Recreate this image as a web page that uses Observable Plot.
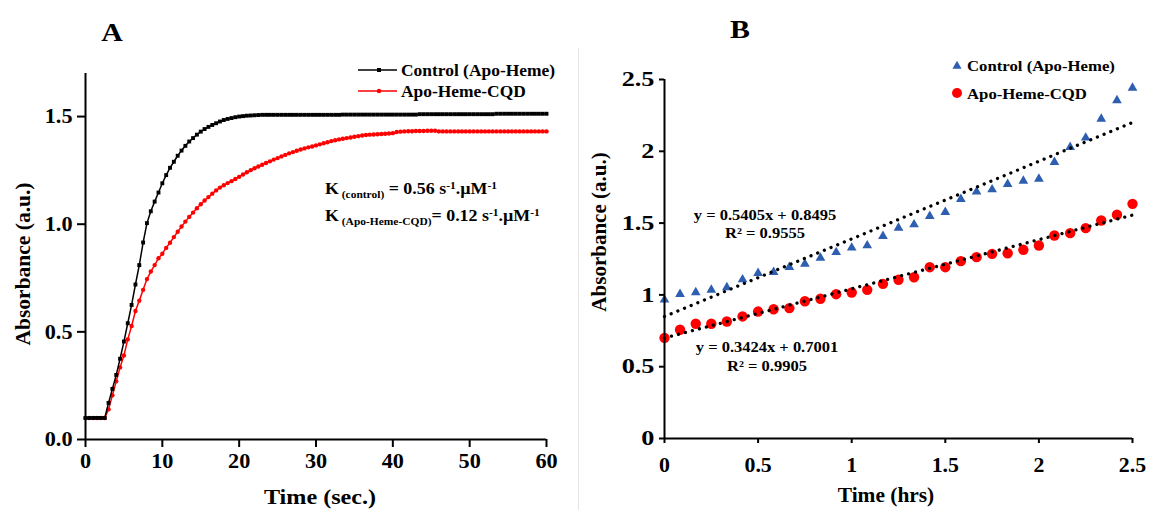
<!DOCTYPE html>
<html>
<head>
<meta charset="utf-8">
<script src="https://cdn.jsdelivr.net/npm/d3@7"></script>
<script src="https://cdn.jsdelivr.net/npm/@observablehq/plot@0.6"></script>
<style>
html,body{margin:0;padding:0;background:#fff;}
#wrap{position:relative;width:1149px;height:510px;overflow:hidden;background:#fff;}
#panelA{position:absolute;left:0;top:0;}
#panelB{position:absolute;left:580px;top:0;}
#divider{position:absolute;left:578px;top:48px;width:1px;height:462px;background:#e4e4e4;}
svg text{white-space:pre;}
</style>
</head>
<body>
<div id="wrap"><div id="panelA"></div><div id="divider"></div><div id="panelB"></div></div>
<script>
const FONT = "'Liberation Serif','Times New Roman',serif";

// ---------- Panel A data ----------
const panelLetters = ["A", "B"];
const seriesNames = ["Control (Apo-Heme)", "Apo-Heme-CQD"];
const timeStepA = 0.5; // seconds between readings
const controlA = [
  0.1,0.1,0.1,0.1,0.1,0.1,
  0.17,0.235,0.30,0.375,0.455,0.54,0.625,0.72,0.81,0.915,
  1.005,1.06,1.105,1.147,1.19,1.228,1.262,1.29,1.318,1.342,
  1.364,1.384,1.4,1.416,1.43,1.442,1.452,1.461,1.469,1.477,
  1.484,1.489,1.493,1.497,1.5,1.502,1.504,1.505,1.506,1.507,
  1.508,
  1.508,1.508,1.508,1.508,1.508,1.508,1.508,1.508,1.508,1.508,
  1.508,1.508,1.508,1.508,1.508,1.508,1.508,1.508,1.508,1.508,
  1.509,1.509,1.509,1.509,1.509,1.509,1.509,1.509,1.509,1.509,
  1.509,1.509,1.509,1.509,1.509,1.509,1.509,1.509,1.509,1.509,
  1.511,1.511,1.511,1.511,1.511,1.511,1.511,1.511,1.511,1.511,
  1.511,1.511,1.511,1.511,1.511,1.511,1.511,1.511,1.511,1.511,
  1.513,1.513,1.513,1.513,1.513,1.513,1.513,1.513,1.513,1.513,
  1.513,1.513,1.513,1.513
];
const cqdA = [
  0.1,0.1,0.1,0.1,0.1,0.1,
  0.14,0.205,0.27,0.335,0.39,0.465,0.527,0.597,0.645,0.695,
  0.745,0.78,0.81,0.842,0.863,0.89,0.914,0.94,0.965,0.989,
  1.012,1.034,1.054,1.074,1.093,1.11,1.126,1.142,1.157,1.17,
  1.181,1.191,1.2,1.21,1.22,1.231,1.241,1.251,1.26,1.268,
  1.276,1.284,1.292,1.3,1.307,1.315,1.322,1.329,1.335,1.341,
  1.347,1.352,1.357,1.361,1.366,1.371,1.376,1.381,1.386,1.39,
  1.394,1.397,1.4,1.403,1.406,1.409,1.412,1.414,1.416,1.417,
  1.418,1.419,1.42,1.421,1.423,1.428,1.43,1.431,1.432,1.432,
  1.433,1.433,1.433,1.434,1.434,1.434,1.431,
  1.431,1.431,1.431,1.431,1.431,1.431,1.431,1.431,1.431,1.431,
  1.431,1.431,1.431,1.431,1.431,1.431,1.431,1.431,1.431,1.431,
  1.431,1.431,1.431,1.431,1.431,1.431,1.431,1.431
];
const xTicksA = [0, 10, 20, 30, 40, 50, 60];
const yTicksA = [0, 0.5, 1.0, 1.5];
const xLabelA = "Time (sec.)";
const yLabel = "Absorbance (a.u.)";
const kRates = ["0.56", "0.12"];
const kSubs = ["(control)", "(Apo-Heme-CQD)"];

// ---------- Panel B data ----------
const timeB = [0,0.083,0.167,0.25,0.333,0.417,0.5,0.583,0.667,0.75,0.833,0.917,1,1.083,1.167,1.25,
  1.333,1.417,1.5,1.583,1.667,1.75,1.833,1.917,2,2.083,2.167,2.25,2.333,2.417,2.5];
const controlB = [0.966,1.005,1.017,1.035,1.052,1.107,1.151,1.158,1.193,1.216,1.258,1.297,1.328,1.344,1.409,1.467,
  1.49,1.548,1.576,1.667,1.718,1.734,1.771,1.794,1.808,1.924,2.029,2.094,2.226,2.354,2.442];
const cqdB = [0.701,0.757,0.799,0.799,0.815,0.85,0.884,0.9,0.908,0.956,0.973,1.005,1.017,1.035,1.077,1.105,
  1.123,1.193,1.193,1.235,1.263,1.286,1.29,1.314,1.344,1.414,1.43,1.465,1.518,1.558,1.634];
const trendSlopes = [0.5405, 0.3424];
const trendIntercepts = [0.8495, 0.7001];
const trendR2 = ["0.9555", "0.9905"];
const trendXRange = [0, 2.5];
const ticksB = [0, 0.5, 1, 1.5, 2, 2.5];
const xLabelB = "Time (hrs)";

const RED = "#ff0000", BLUE = "#2d5eb0";

// ---------- helpers ----------
function stretchTexts(nodes, k) {
  nodes.forEach(t => {
    const tr = t.getAttribute("transform") || "";
    if (/rotate/.test(tr)) return;
    const x = t.getAttribute("x");
    if (x != null && x !== "" && !isNaN(+x)) t.setAttribute("x", (+x) / k);
    t.setAttribute("transform", (tr + ` scale(${k},1)`).trim());
  });
}
function addText(svg, x, y, str, {size = 16, anchor = "start", k = 1.1, rotate = 0} = {}) {
  return d3.select(svg).append("text")
    .attr("transform", `translate(${x},${y})${rotate ? ` rotate(${rotate})` : ""} scale(${k},1)`)
    .attr("text-anchor", anchor).attr("font-size", size)
    .attr("font-family", FONT).attr("font-weight", "bold").attr("fill", "#000")
    .text(str);
}
function addRich(svg, x, y, parts, size, k) {
  const t = d3.select(svg).append("text")
    .attr("transform", `translate(${x},${y}) scale(${k},1)`)
    .attr("text-anchor", "start")
    .attr("font-size", size).attr("font-family", FONT).attr("font-weight", "bold").attr("fill", "#000");
  let cur = 0;
  for (const [str, kind] of parts) {
    const shift = kind === "sub" ? 4 : kind === "sup" ? -5 : 0;
    t.append("tspan").attr("dy", shift - cur).attr("font-size", kind ? size * 0.64 : size).text(str);
    cur = shift;
  }
}

// ---------- Panel A ----------
const rowsA = (vals, s) => vals.map((v, i) => ({t: i * timeStepA, v, s}));
const ctrlRowsA = rowsA(controlA, seriesNames[0]);
const cqdRowsA = rowsA(cqdA, seriesNames[1]);

const plotA = Plot.plot({
  width: 575, height: 510,
  marginLeft: 85, marginRight: 29, marginTop: 73, marginBottom: 71,
  style: {fontFamily: FONT, fontWeight: "bold", fontSize: "21px", color: "#000", background: "transparent", overflow: "visible"},
  x: {domain: [0, 60], label: null},
  y: {domain: [0, 1.7], label: null},
  marks: [
    Plot.axisX({ticks: xTicksA, tickSize: 8, tickPadding: 6, strokeWidth: 2, fontSize: 21, tickFormat: d => String(d), label: null}),
    Plot.axisY({ticks: yTicksA, tickSize: 8, tickPadding: 5, strokeWidth: 2, fontSize: 21, tickFormat: d3.format(".1f"), label: null}),
    Plot.line(cqdRowsA, {x: "t", y: "v", stroke: RED, strokeWidth: 1.5}),
    Plot.dot(cqdRowsA, {x: "t", y: "v", fill: RED, r: 2.2}),
    Plot.line(ctrlRowsA, {x: "t", y: "v", stroke: "#000", strokeWidth: 1.5}),
    Plot.dot(ctrlRowsA, {x: "t", y: "v", fill: "#000", r: 2.2, symbol: "square"}),
    Plot.ruleX([0], {strokeWidth: 2}),
    Plot.ruleY([0], {strokeWidth: 2})
  ]
});
document.getElementById("panelA").append(plotA);
stretchTexts(plotA.querySelectorAll("text"), 1.06);

addText(plotA, 112, 41, panelLetters[0], {size: 26, anchor: "middle", k: 1.15});
addText(plotA, 320, 504, xLabelA, {size: 21, anchor: "middle", k: 1.15});
addText(plotA, 30, 264, yLabel, {size: 21.5, anchor: "middle", k: 1, rotate: -90});
// legend A
{
  const g = d3.select(plotA).append("g");
  const rowsY = [70, 91];
  const cols = ["#000", RED];
  rowsY.forEach((yy, i) => {
    g.append("line").attr("x1", 358).attr("x2", 397).attr("y1", yy).attr("y2", yy).attr("stroke", cols[i]).attr("stroke-width", 1.6);
    if (i === 0) g.append("rect").attr("x", 377).attr("y", yy - 2).attr("width", 4).attr("height", 4).attr("fill", cols[i]);
    else g.append("circle").attr("cx", 379).attr("cy", yy).attr("r", 2.2).attr("fill", cols[i]);
    addText(plotA, 401, yy + 5.5, seriesNames[i], {size: 16, k: 1.09});
  });
}
// rate constants
addRich(plotA, 325, 194, [["K"], [" " + kSubs[0], "sub"], [" = " + kRates[0] + " s"], ["-1", "sup"], [".µM"], ["-1", "sup"]], 16, 1.12);
addRich(plotA, 325, 221, [["K"], [" " + kSubs[1], "sub"], ["= " + kRates[1] + " s"], ["-1", "sup"], [".µM"], ["-1", "sup"]], 16, 1.12);

// ---------- Panel B ----------
const ctrlRowsB = timeB.map((t, i) => ({t, v: controlB[i]}));
const cqdRowsB = timeB.map((t, i) => ({t, v: cqdB[i]}));
const trendRows = trendSlopes.flatMap((m, j) => trendXRange.map(t => ({t, v: m * t + trendIntercepts[j], j})));

const plotB = Plot.plot({
  width: 569, height: 510,
  marginLeft: 84, marginRight: 17, marginTop: 79, marginBottom: 72,
  style: {fontFamily: FONT, fontWeight: "bold", fontSize: "20px", color: "#000", background: "transparent", overflow: "visible"},
  x: {domain: [0, 2.5], label: null},
  y: {domain: [0, 2.5], label: null},
  marks: [
    Plot.axisX({ticks: ticksB, tickSize: 5, tickPadding: 14, strokeWidth: 2, fontSize: 21, tickFormat: d => String(d), label: null}),
    Plot.axisY({ticks: ticksB, tickSize: 5, tickPadding: 5, strokeWidth: 2, fontSize: 21, tickFormat: d => String(d), label: null}),
    Plot.dot(cqdRowsB, {x: "t", y: "v", fill: RED, r: 5.2}),
    Plot.dot(ctrlRowsB, {x: "t", y: "v", fill: BLUE, r: 3.6, symbol: "triangle"}),
    Plot.line(trendRows, {x: "t", y: "v", z: "j", stroke: "#000", strokeWidth: 3.3, strokeDasharray: "0.01 7.2", strokeLinecap: "round"}),
    Plot.ruleX([0], {strokeWidth: 2}),
    Plot.ruleY([0], {strokeWidth: 2})
  ]
});
document.getElementById("panelB").append(plotB);
{
  const ylab = plotB.querySelectorAll('g[aria-label="y-axis tick label"] text');
  const xlab = plotB.querySelectorAll('g[aria-label="x-axis tick label"] text');
  if (ylab.length || xlab.length) { stretchTexts(ylab, 1.25); stretchTexts(xlab, 1.04); }
  else stretchTexts(plotB.querySelectorAll("text"), 1.12);
}
addText(plotB, 160, 38, panelLetters[1], {size: 26, anchor: "middle", k: 1.15});
addText(plotB, 306, 502, xLabelB, {size: 20, anchor: "middle", k: 1.07});
addText(plotB, 26, 232, yLabel, {size: 21, anchor: "middle", k: 1, rotate: -90});
// legend B
{
  const g = d3.select(plotB).append("g");
  g.append("path").attr("d", d3.symbol(d3.symbolTriangle, 36)()).attr("transform", "translate(377,66)").attr("fill", BLUE);
  g.append("circle").attr("cx", 377).attr("cy", 93).attr("r", 5).attr("fill", RED);
  addText(plotB, 387, 71, seriesNames[0], {size: 15.5, k: 1.08});
  addText(plotB, 387, 99, seriesNames[1], {size: 15.5, k: 1.08});
}
// regression equations
const eqText = j => `y = ${trendSlopes[j]}x + ${trendIntercepts[j]}`;
addText(plotB, 185, 220, eqText(0), {size: 15, anchor: "middle", k: 1.1});
addText(plotB, 185, 238, `R² = ${trendR2[0]}`, {size: 15, anchor: "middle", k: 1.1});
addText(plotB, 187, 352, eqText(1), {size: 15, anchor: "middle", k: 1.1});
addText(plotB, 187, 371, `R² = ${trendR2[1]}`, {size: 15, anchor: "middle", k: 1.1});
</script>
</body>
</html>
